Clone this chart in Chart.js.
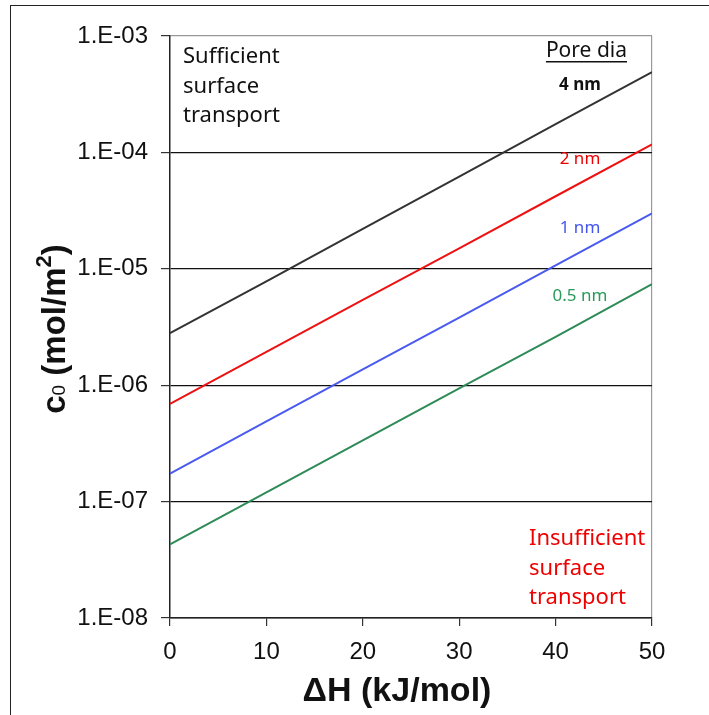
<!DOCTYPE html>
<html>
<head>
<meta charset="utf-8">
<script src="https://cdn.jsdelivr.net/npm/chart.js@4/dist/chart.umd.min.js"></script>
<style>
  html, body { margin: 0; padding: 0; background: #fff; }
  #wrap { position: relative; width: 709px; height: 715px; overflow: hidden; }
  #frame { position: absolute; left: 10px; top: 5px; width: 720px; height: 720px; border: 1.5px solid #222; box-sizing: border-box; }
  #chart { position: absolute; left: 0; top: 0; }
</style>
</head>
<body>
<div id="wrap">
  <div id="frame"></div>
  <canvas id="chart" width="709" height="715"></canvas>
</div>
<script>
// enthalpy (kJ/mol)
const dH = [0, 10, 20, 30, 40, 50];

// c0 (mol/m2), one list per pore diameter
const c4nm   = [2.8e-6, 7.8e-6, 2.2e-5, 6.2e-5, 1.75e-4, 4.9e-4];
const c2nm   = [6.9e-7, 1.93e-6, 5.4e-6, 1.5e-5, 4.2e-5, 1.17e-4];
const c1nm   = [1.74e-7, 4.9e-7, 1.37e-6, 3.8e-6, 1.07e-5, 3.0e-5];
const c05nm  = [4.3e-8, 1.2e-7, 3.35e-7, 9.4e-7, 2.6e-6, 7.4e-6];

const yTicks = [1e-8, 1e-7, 1e-6, 1e-5, 1e-4, 1e-3];

function fmt(v) {
    const e = Math.round(Math.log10(v));
    const s = String(Math.abs(e)).padStart(2, '0');
    return '1.E' + (e < 0 ? '-' : '+') + s;
}

function series(label, vals, color) {
    return {
        label: label,
        data: dH.map((x, i) => ({ x: x, y: vals[i] })),
        borderColor: color,
        borderWidth: 2,
        pointRadius: 0,
        tension: 0,
        fill: false
    };
}

const AX = '"Liberation Sans", Arial, sans-serif';

const labelsPlugin = {
    id: 'labels',
    afterDraw(chart) {
        const ctx = chart.ctx;
        const a = chart.chartArea;
        ctx.save();
        ctx.textBaseline = 'middle';

        ctx.font = '22px "Noto Sans"';
        ctx.fillStyle = '#111';
        ctx.textAlign = 'left';
        ['Sufficient', 'surface', 'transport'].forEach((t, i) => {
            ctx.fillText(t, a.left + 13, a.top + 21 + i * 29.5);
        });

        ctx.fillStyle = '#e00';
        ['Insufficient', 'surface', 'transport'].forEach((t, i) => {
            ctx.fillText(t, a.right - 123, a.top + 503 + i * 29.5);
        });

        // legend-ish labels
        ctx.textAlign = 'right';
        ctx.fillStyle = '#111';
        ctx.font = '21px "Noto Sans"';
        ctx.fillText('Pore dia', a.right - 25, a.top + 15);
        const w = ctx.measureText('Pore dia').width;
        ctx.fillRect(a.right - 25 - w, a.top + 25, w, 1.5);

        ctx.textAlign = 'center';
        const cx = a.right - 72;
        ctx.font = 'bold 17px "Noto Sans"';
        ctx.fillStyle = '#111';
        ctx.fillText('4 nm', cx, a.top + 49);
        ctx.font = '17px "Noto Sans"';
        ctx.fillStyle = '#e00';
        ctx.fillText('2 nm', cx, a.top + 123);
        ctx.fillStyle = '#4455ee';
        ctx.fillText('1 nm', cx, a.top + 192);
        ctx.fillStyle = '#2a9a5a';
        ctx.fillText('0.5 nm', cx, a.top + 260);

        // x axis title
        ctx.fillStyle = '#111';
        ctx.font = 'bold 34px ' + AX;
        ctx.textAlign = 'center';
        ctx.fillText('\u0394H (kJ/mol)', 397, 692);

        // y axis title with subscript and superscript
        const parts = [
            { t: 'c', f: 'bold 33px ' + AX, dy: 0 },
            { t: '0', f: '19px ' + AX, dy: 0 },
            { t: ' (mol/m', f: 'bold 33px ' + AX, dy: 0 },
            { t: '2', f: 'bold 22px ' + AX, dy: -14 },
            { t: ')', f: 'bold 33px ' + AX, dy: 0 }
        ];
        let total = 0;
        parts.forEach(p => { ctx.font = p.f; p.w = ctx.measureText(p.t).width; total += p.w; });
        ctx.translate(65, 329);
        ctx.rotate(-Math.PI / 2);
        ctx.textAlign = 'left';
        ctx.textBaseline = 'alphabetic';
        let px = -total / 2;
        parts.forEach(p => {
            ctx.font = p.f;
            ctx.fillText(p.t, px, p.dy);
            px += p.w;
        });
        ctx.restore();
    }
};

new Chart(document.getElementById('chart'), {
    type: 'line',
    data: {
        datasets: [
            series('4 nm', c4nm, '#333333'),
            series('2 nm', c2nm, '#ee1111'),
            series('1 nm', c1nm, '#4a5af0'),
            series('0.5 nm', c05nm, '#2e8b57')
        ]
    },
    options: {
        responsive: false,
        animation: false,
        layout: { padding: { top: 36, right: 57, left: 0, bottom: 0 } },
        plugins: { legend: { display: false }, tooltip: { enabled: false } },
        scales: {
            x: {
                type: 'linear',
                min: 0,
                max: 50,
                afterFit(s) { s.height = 97; },
                ticks: {
                    stepSize: 10,
                    color: '#111',
                    font: { family: AX, size: 24 },
                    padding: 12
                },
                grid: {
                    color: c => c.tick && c.tick.value === 50 ? '#999' : 'rgba(0,0,0,0)',
                    tickColor: '#333',
                    tickLength: 8,
                    lineWidth: 1.2
                },
                border: { color: '#222', width: 1.5 },
                title: { display: false }
            },
            y: {
                type: 'logarithmic',
                min: 1e-8,
                max: 1e-3,
                afterFit(s) { s.width = 170; },
                afterBuildTicks(s) { s.ticks = yTicks.map(v => ({ value: v })); },
                ticks: {
                    color: '#111',
                    font: { family: AX, size: 24 },
                    padding: 13,
                    callback: v => fmt(v)
                },
                grid: {
                    color: c => c.tick && c.tick.value === 1e-3 ? '#999' : '#111',
                    tickColor: '#333',
                    tickLength: 9,
                    lineWidth: 1.2
                },
                border: { color: '#222', width: 1.5 },
                title: { display: false }
            }
        }
    },
    plugins: [labelsPlugin]
});
</script>
</body>
</html>
